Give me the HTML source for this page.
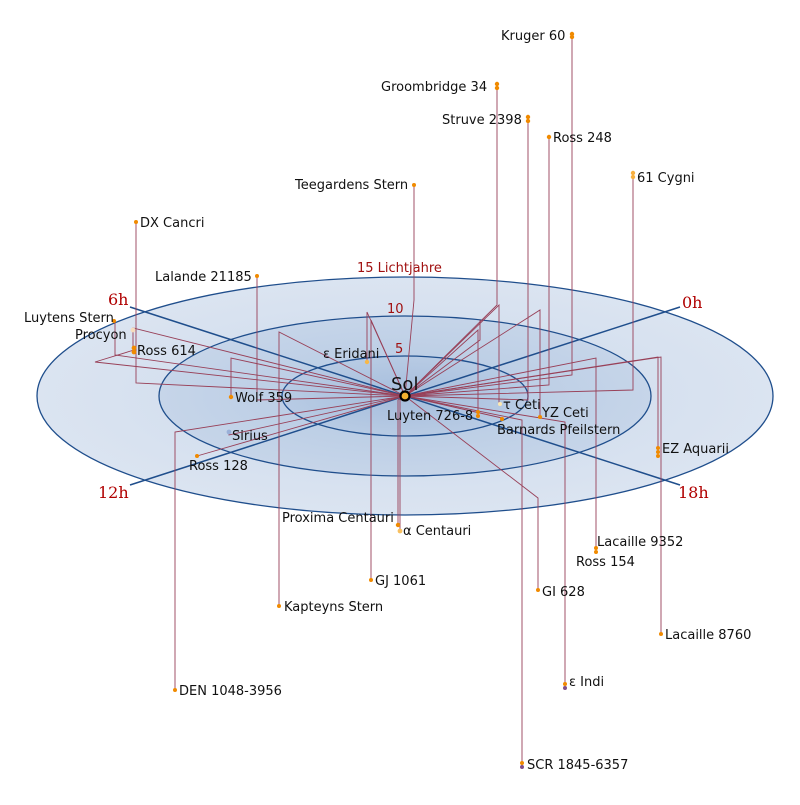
<!DOCTYPE html>
<html><head><meta charset="utf-8"><style>
html,body{margin:0;padding:0;background:#fff}
svg text{font-family:"DejaVu Sans","Liberation Sans",sans-serif;font-size:13px;fill:#111}
.h{font-family:"DejaVu Serif","Liberation Serif",serif;font-size:16px;fill:#b00000}
.r{fill:#a01010;font-size:13px}
</style></head><body>
<svg width="800" height="800" viewBox="0 0 800 800" xmlns="http://www.w3.org/2000/svg">
<defs>
<radialGradient id="g1" cx="50%" cy="50%" r="50%"><stop offset="0" stop-color="#cbd9eb"/><stop offset="1" stop-color="#dbe4f1"/></radialGradient>
<radialGradient id="g2" cx="50%" cy="50%" r="50%"><stop offset="0" stop-color="#b3c8e2"/><stop offset="1" stop-color="#c6d5e9"/></radialGradient>
<radialGradient id="g3" cx="50%" cy="50%" r="50%"><stop offset="0" stop-color="#a5bddc"/><stop offset="1" stop-color="#b8cbe4"/></radialGradient>
</defs>
<ellipse cx="405" cy="396" rx="368" ry="119" fill="url(#g1)" stroke="#1f4e8c" stroke-width="1.3"/>
<ellipse cx="405" cy="396" rx="246" ry="80" fill="url(#g2)" stroke="#1f4e8c" stroke-width="1.3"/>
<ellipse cx="405" cy="396" rx="123" ry="40" fill="url(#g3)" stroke="#1f4e8c" stroke-width="1.3"/>
<line x1="130" y1="307" x2="680" y2="485" stroke="#1f4e8c" stroke-width="1.5"/>
<line x1="680" y1="307" x2="130" y2="485" stroke="#1f4e8c" stroke-width="1.5"/>
<g fill="none" stroke="#984058" stroke-width="0.9">
<path d="M405 396 L572 375 L572 34"/>
<path d="M405 396 L497 305 L497 87"/>
<path d="M405 396 L528 400 L528 119"/>
<path d="M405 396 L549 385 L549 137"/>
<path d="M405 396 L633 390 L633 175"/>
<path d="M405 396 L414 300 L414 185"/>
<path d="M405 396 L136 383 L136 222"/>
<path d="M405 396 L257 400 L257 276"/>
<path d="M405 396 L115 355 L115 320"/>
<path d="M405 396 L133 328 L133 350"/>
<path d="M405 396 L95 362 L134 350"/>
<path d="M405 396 L231 358 L231 397"/>
<path d="M405 396 L229 435 L229 432"/>
<path d="M405 396 L197 456"/>
<path d="M405 396 L367 312 L367 362"/>
<path d="M405 396 L400 400 L400 530"/>
<path d="M405 396 L398 400 L398 524"/>
<path d="M405 396 L371 320 L371 580"/>
<path d="M405 396 L279 332 L279 606"/>
<path d="M405 396 L175 432 L175 690"/>
<path d="M405 396 L538 498 L538 590"/>
<path d="M405 396 L596 358 L596 550"/>
<path d="M405 396 L661 357 L661 634"/>
<path d="M405 396 L565 422 L565 685"/>
<path d="M405 396 L522 420 L522 766"/>
<path d="M405 396 L658 357 L658 452"/>
<path d="M405 396 L499 305 L499 404"/>
<path d="M405 396 L540 310 L540 417"/>
<path d="M405 396 L478 330 L478 414"/>
<path d="M405 396 L502 418"/>
<path d="M405 396 L480 340 L480 320"/>
</g>
<g fill="#f08a00">
<circle cx="572" cy="34" r="2.2"/><circle cx="572" cy="37" r="2.2"/>
<circle cx="497" cy="84" r="2.2"/><circle cx="497" cy="88" r="2.2"/>
<circle cx="528" cy="117" r="2.2"/><circle cx="528" cy="121" r="2.2"/>
<circle cx="549" cy="137" r="2.2"/>
<circle cx="633" cy="173" r="2.2" fill="#f8b040"/><circle cx="633" cy="177" r="2.2" fill="#f8b040"/>
<circle cx="414" cy="185" r="2"/>
<circle cx="136" cy="222" r="2"/>
<circle cx="257" cy="276" r="2"/>
<circle cx="114" cy="321" r="2"/>
<circle cx="133" cy="330" r="2.4" fill="#f6dcbc"/>
<circle cx="134" cy="348" r="2.4"/><circle cx="134" cy="352" r="2.4"/>
<circle cx="231" cy="397" r="2.2"/>
<circle cx="229" cy="432" r="2.4" fill="#9ab0d8"/>
<circle cx="197" cy="456" r="2"/>
<circle cx="367" cy="362" r="2.2" fill="#f8b848"/>
<circle cx="398" cy="525" r="2.2"/><circle cx="400" cy="531" r="2.4" fill="#f8c060"/>
<circle cx="371" cy="580" r="2"/>
<circle cx="279" cy="606" r="2"/>
<circle cx="175" cy="690" r="2"/>
<circle cx="538" cy="590" r="2"/>
<circle cx="596" cy="548" r="2"/><circle cx="596" cy="552" r="2"/>
<circle cx="661" cy="634" r="2"/>
<circle cx="565" cy="684" r="2"/><circle cx="565" cy="688" r="2" fill="#80508a"/>
<circle cx="522" cy="763" r="2"/><circle cx="522" cy="767" r="2" fill="#80508a"/>
<circle cx="658" cy="448" r="2"/><circle cx="658" cy="452" r="2"/><circle cx="658" cy="456" r="2"/>
<circle cx="500" cy="404" r="2" fill="#fde8b0"/>
<circle cx="540" cy="417" r="2"/>
<circle cx="502" cy="419" r="2"/>
<circle cx="478" cy="412" r="2"/><circle cx="478" cy="416" r="2"/>
</g>
<circle cx="405" cy="396" r="4.5" fill="#f4b030" stroke="#000" stroke-width="2.2"/>
<text x="391" y="390" style="font-size:18px">Sol</text>
<text class="r" x="357" y="272">15 Lichtjahre</text>
<text class="r" x="387" y="313">10</text>
<text class="r" x="395" y="353">5</text>
<text class="h" x="108" y="305">6h</text>
<text class="h" x="682" y="308">0h</text>
<text class="h" x="98" y="498">12h</text>
<text class="h" x="678" y="498">18h</text>
<text x="501" y="40">Kruger 60</text>
<text x="381" y="91">Groombridge 34</text>
<text x="442" y="124">Struve 2398</text>
<text x="553" y="142">Ross 248</text>
<text x="637" y="182">61 Cygni</text>
<text x="295" y="189">Teegardens Stern</text>
<text x="140" y="227">DX Cancri</text>
<text x="155" y="281">Lalande 21185</text>
<text x="24" y="322">Luytens Stern</text>
<text x="75" y="339">Procyon</text>
<text x="137" y="355">Ross 614</text>
<text x="323" y="358">ε Eridani</text>
<text x="235" y="402">Wolf 359</text>
<text x="232" y="440">Sirius</text>
<text x="189" y="470">Ross 128</text>
<text x="387" y="420">Luyten 726-8</text>
<text x="503" y="409">τ Ceti</text>
<text x="542" y="417">YZ Ceti</text>
<text x="497" y="434">Barnards Pfeilstern</text>
<text x="662" y="453">EZ Aquarii</text>
<text x="282" y="522">Proxima Centauri</text>
<text x="403" y="535">α Centauri</text>
<text x="597" y="546">Lacaille 9352</text>
<text x="576" y="566">Ross 154</text>
<text x="375" y="585">GJ 1061</text>
<text x="542" y="596">GI 628</text>
<text x="284" y="611">Kapteyns Stern</text>
<text x="665" y="639">Lacaille 8760</text>
<text x="569" y="686">ε Indi</text>
<text x="179" y="695">DEN 1048-3956</text>
<text x="527" y="769">SCR 1845-6357</text>
</svg>
</body></html>
